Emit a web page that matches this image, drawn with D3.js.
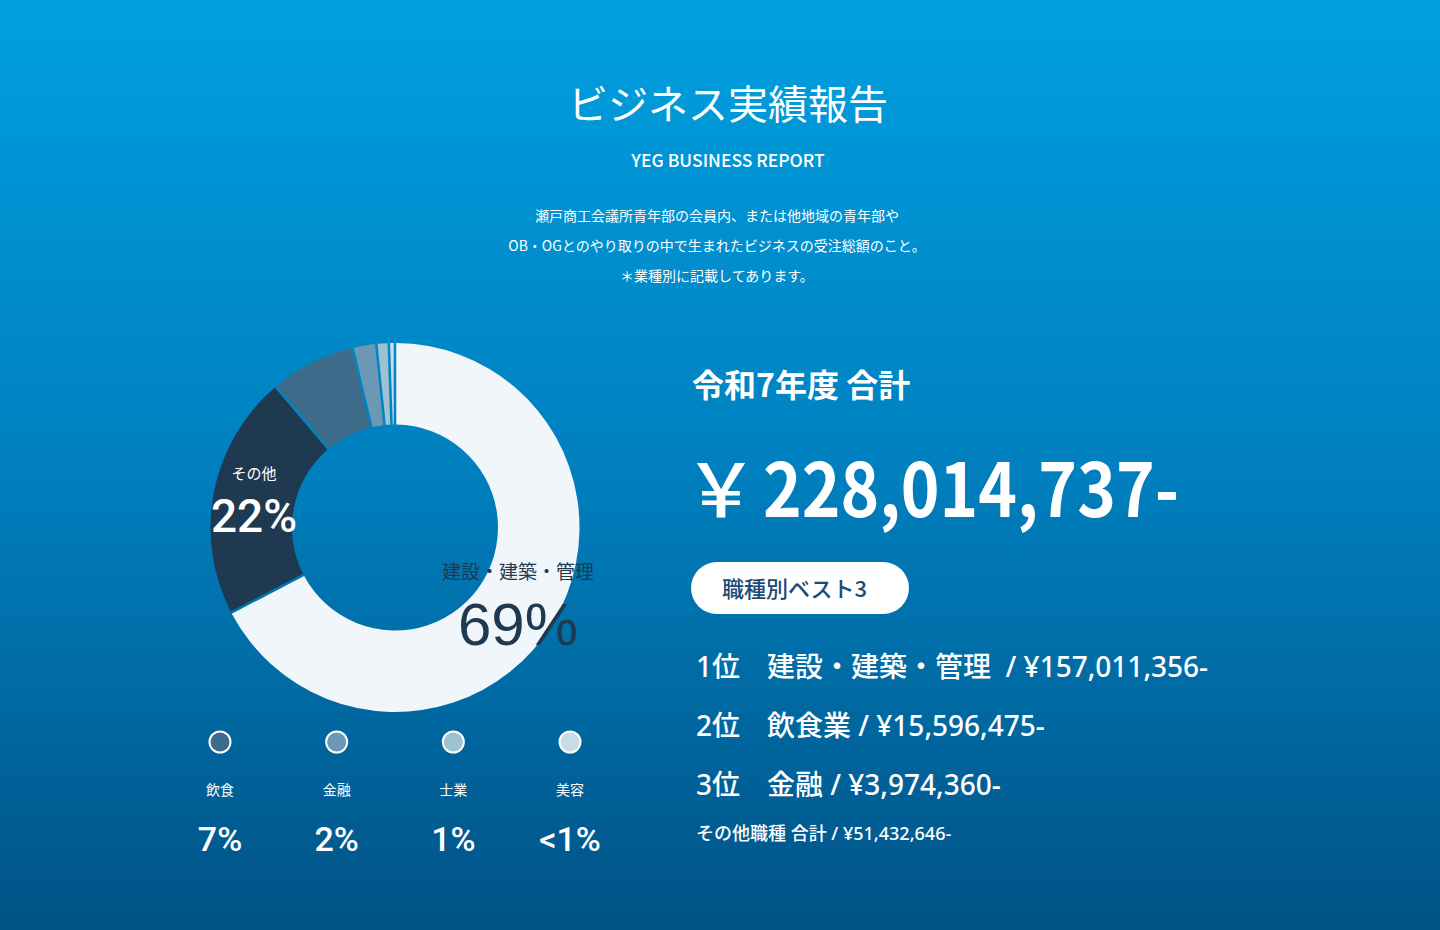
<!DOCTYPE html>
<html>
<head>
<meta charset="utf-8">
<script src="https://cdn.jsdelivr.net/npm/d3@7"></script>
<style>
  html, body { margin: 0; padding: 0; overflow: hidden; }
  svg { display: block; }
  .jp { font-family: "Noto Sans CJK JP", "Noto Sans", sans-serif; }
  .lat { font-family: "Noto Sans", "Noto Sans CJK JP", sans-serif; }
  .num { font-family: Roboto, "Liberation Sans", Arial, sans-serif; }
  .arial { font-family: "Liberation Sans", Arial, sans-serif; }
</style>
</head>
<body>
<svg id="chart" width="1440" height="930"></svg>
<script>
// ---- data ----
const categories = ["建設・建築・管理", "その他", "飲食", "金融", "士業", "美容"];
const shares = [68, 21.5, 7.4, 1.9, 0.9, 0.35];          // estimated share of ring
const shareLabels = ["69%", "22%", "7%", "2%", "1%", "<1%"];
const sliceColors = ["#f0f6fa", "#1f3a50", "#3f6b8a", "#6b98b5", "#9fc1d4", "#c9dce6"];

const legendCats = ["飲食", "金融", "士業", "美容"];
const legendLabels = ["7%", "2%", "1%", "<1%"];

const title = "ビジネス実績報告";
const subtitle = "YEG BUSINESS REPORT";
const descLines = [
  "瀬戸商工会議所青年部の会員内、または他地域の青年部や",
  "OB・OGとのやり取りの中で生まれたビジネスの受注総額のこと。",
  "＊業種別に記載してあります。"
];
const totalHeading = "令和7年度 合計";
const totalAmount = 228014737;
const bestLabel = "職種別ベスト3";
const rankNames = ["建設・建築・管理 ", "飲食業", "金融"];
const rankAmounts = [157011356, 15596475, 3974360];
const otherLabel = "その他職種 合計";
const otherAmount = 51432646;

// ---- drawing ----
const W = 1440, H = 930;
const svg = d3.select("#chart");
const defs = svg.append("defs");
const grad = defs.append("linearGradient").attr("id", "bg")
  .attr("x1", 0).attr("y1", 0).attr("x2", 0).attr("y2", 1);
grad.append("stop").attr("offset", "0%").attr("stop-color", "#00a0e0");
grad.append("stop").attr("offset", "50%").attr("stop-color", "#0080bf");
grad.append("stop").attr("offset", "100%").attr("stop-color", "#005386");
svg.append("rect").attr("width", W).attr("height", H).attr("fill", "url(#bg)");

const fmt = d3.format(",");

// header
svg.append("text").attr("class", "jp").attr("x", 728).attr("y", 119)
  .attr("text-anchor", "middle").attr("font-size", 40).attr("fill", "#fff")
  .text(title);
svg.append("text").attr("class", "jp").attr("x", 728).attr("y", 167)
  .attr("text-anchor", "middle").attr("font-size", 17.5).attr("font-weight", 500)
  .attr("fill", "#fff").text(subtitle);
svg.selectAll("text.desc").data(descLines).join("text")
  .attr("class", "jp desc").attr("x", 717).attr("y", (d, i) => 221 + i * 30)
  .attr("text-anchor", "middle").attr("font-size", 14).attr("fill", "#fff")
  .text(d => d);

// donut
const cx = 395, cy = 527.5, rOuter = 184.5, rInner = 103;
const pie = d3.pie().sort(null).value(d => d).padAngle(0.012);
const arcs = pie(shares);
const arc = d3.arc().innerRadius(rInner).outerRadius(rOuter);
const g = svg.append("g").attr("transform", `translate(${cx},${cy})`);
g.selectAll("path").data(arcs).join("path")
  .attr("d", arc).attr("fill", (d, i) => sliceColors[i]);

// donut labels
svg.append("text").attr("class", "jp").attr("x", 254).attr("y", 479)
  .attr("text-anchor", "middle").attr("font-size", 15).attr("fill", "#fff")
  .text(categories[1]);
svg.append("text").attr("class", "num").attr("x", 254).attr("y", 532)
  .attr("text-anchor", "middle").attr("font-size", 46).attr("font-weight", 500).attr("fill", "#fff")
  .text(shareLabels[1]);
svg.append("text").attr("class", "jp").attr("x", 518).attr("y", 579)
  .attr("text-anchor", "middle").attr("font-size", 19).attr("fill", "#1f3a50")
  .text(categories[0]);
svg.append("text").attr("class", "arial").attr("x", 518).attr("y", 645)
  .attr("text-anchor", "middle").attr("font-size", 60).attr("fill", "#1f3a50")
  .text(shareLabels[0]);

// legend
const lx = d3.scalePoint().domain(legendCats).range([220, 570]);
const lg = svg.selectAll("g.leg").data(legendCats).join("g").attr("class", "leg")
  .attr("transform", d => `translate(${lx(d)},0)`);
lg.append("circle").attr("cy", 742).attr("r", 10.5)
  .attr("fill", (d, i) => sliceColors[i + 2]).attr("stroke", "#fff").attr("stroke-width", 2);
lg.append("text").attr("class", "jp").attr("y", 795).attr("text-anchor", "middle")
  .attr("font-size", 14).attr("fill", "#fff").text(d => d);
lg.append("text").attr("class", "num").attr("y", 851).attr("text-anchor", "middle")
  .attr("font-size", 34).attr("font-weight", 500).attr("fill", "#fff").text((d, i) => legendLabels[i]);

// right panel
svg.append("text").attr("class", "jp").attr("x", 692).attr("y", 397)
  .attr("font-size", 32).attr("font-weight", 700).attr("fill", "#fff")
  .text(totalHeading);
const tot = svg.append("text").attr("class", "jp").attr("y", 517)
  .attr("font-size", 74).attr("font-weight", 700).attr("fill", "#fff");
tot.append("tspan").attr("x", 684).attr("font-weight", 500).text("￥");
tot.append("tspan").attr("x", 763).attr("textLength", 416).attr("lengthAdjust", "spacingAndGlyphs")
  .text(fmt(totalAmount) + "-");

svg.append("rect").attr("x", 691).attr("y", 562).attr("width", 218).attr("height", 52)
  .attr("rx", 26).attr("fill", "#fff");
svg.append("text").attr("class", "jp").attr("x", 722).attr("y", 597)
  .attr("font-size", 22).attr("font-weight", 500).attr("fill", "#1b4a73")
  .text(bestLabel);

const ranks = svg.selectAll("g.rank").data(rankNames).join("g").attr("class", "rank")
  .attr("transform", (d, i) => `translate(0,${677 + i * 59})`);
ranks.append("text").attr("class", "lat").attr("x", 696)
  .attr("font-size", 28).attr("font-weight", 500).attr("fill", "#fff")
  .text((d, i) => (i + 1) + "位");
ranks.append("text").attr("class", "lat").attr("x", 767)
  .attr("font-size", 28).attr("font-weight", 500).attr("fill", "#fff")
  .attr("xml:space", "preserve")
  .text((d, i) => d + " / ¥" + fmt(rankAmounts[i]) + "-");

svg.append("text").attr("class", "lat").attr("x", 696).attr("y", 840)
  .attr("font-size", 18).attr("font-weight", 500).attr("fill", "#fff")
  .text(otherLabel + " / ¥" + fmt(otherAmount) + "-");
</script>
</body>
</html>
